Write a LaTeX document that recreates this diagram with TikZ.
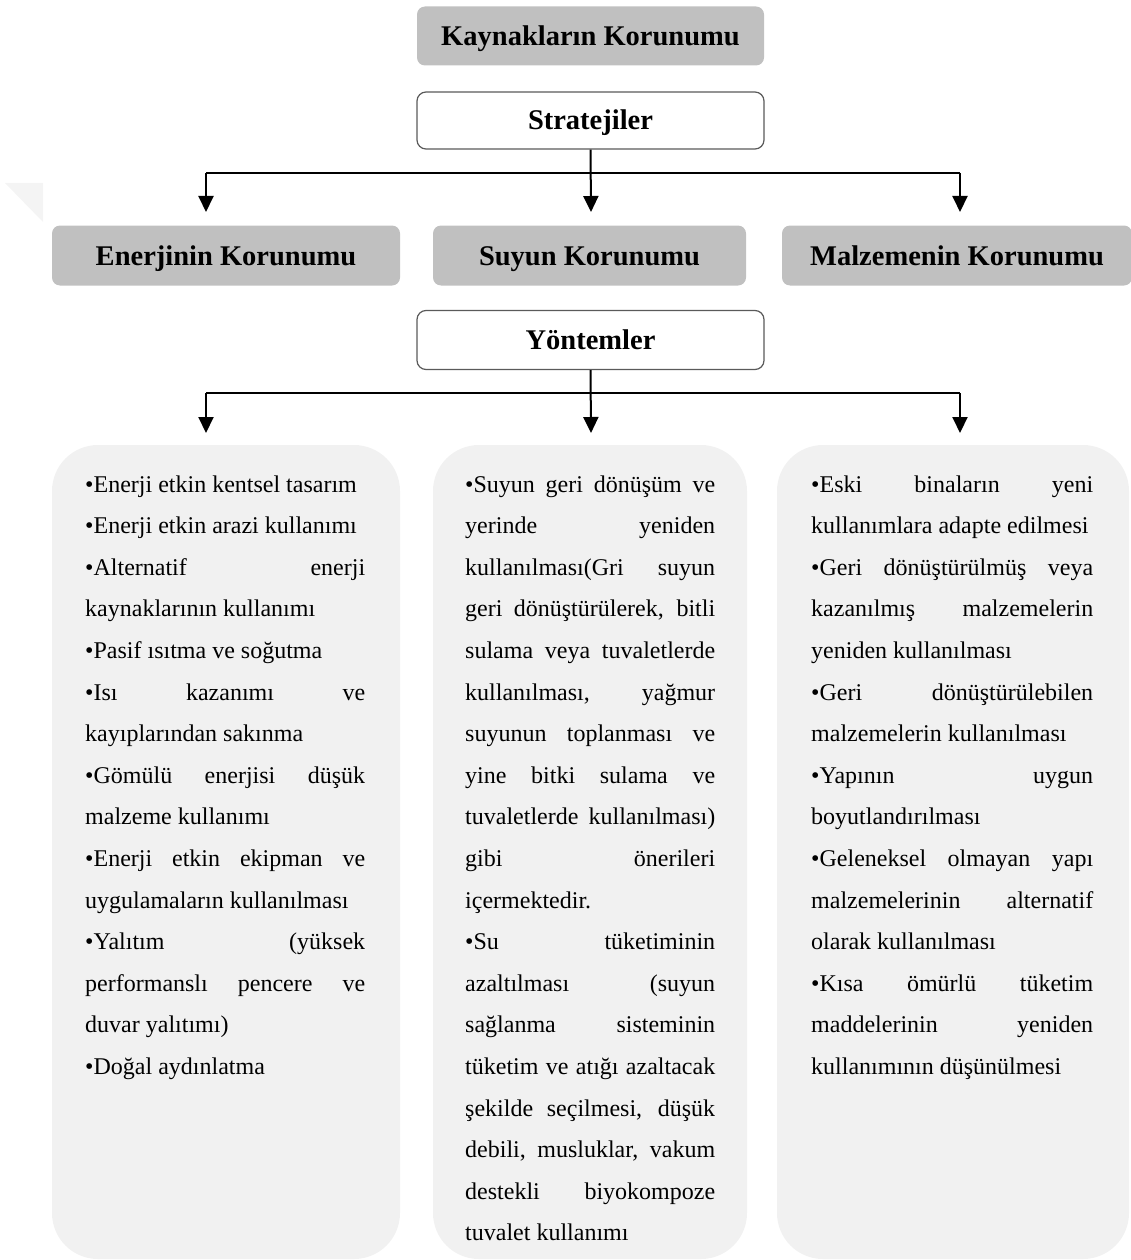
\documentclass[tikz,border=0pt]{standalone}
\usepackage{fontspec}
\setmainfont{Liberation Serif}
\usetikzlibrary{arrows.meta}
\definecolor{hdrgray}{HTML}{C0C0C0}
\definecolor{panelgray}{HTML}{F1F1F1}
\definecolor{edgegray}{HTML}{5A5A5A}
\definecolor{markgray}{HTML}{F4F4F4}
% one text line of a panel: name, x, baseline y, width, text
\newcommand{\Jline}[5]{\node[bodytxt] (#1) at (#2,#3) {\makebox[#4][s]{#5}};}
\newcommand{\Lline}[5]{\node[bodytxt] (#1) at (#2,#3) {\makebox[#4][l]{#5}};}
\begin{document}
\begin{tikzpicture}[x=1pt,y=-1pt,
  hdr/.style={fill=hdrgray, rounded corners=8pt, inner sep=0pt,
    text height=25pt, text depth=6pt,
    font=\fontsize{28.5}{30}\selectfont\bfseries},
  lbl/.style={fill=white, draw=edgegray, line width=1.2pt, rounded corners=9pt, inner sep=0pt,
    text height=25pt, text depth=6pt,
    font=\fontsize{28.5}{30}\selectfont\bfseries},
  panel/.style={fill=panelgray, rounded corners=46pt, inner sep=0pt},
  bodytxt/.style={anchor=base west, inner sep=0pt, font=\fontsize{24}{28}\selectfont},
  conn/.style={line width=2pt, draw=black},
  arr/.style={conn, -{Triangle[width=15pt,length=16pt]}}]
\useasboundingbox (0,0) rectangle (1131,1260);

% faint corner mark
\fill[markgray] (5,183) -- (43,183) -- (43,222) -- cycle;

% top level
\node[hdr, minimum width=347pt, minimum height=59pt] (kaynak) at (590.5,36) {Kaynakların Korunumu};
\node[lbl, minimum width=347pt, minimum height=57pt] (strat) at (590.5,120.5) {Stratejiler};

% strategy headers
\node[hdr, minimum width=348pt, minimum height=60pt] (enerji) at (226,255.5) {Enerjinin Korunumu};
\node[hdr, minimum width=313pt, minimum height=60pt] (su) at (589.5,255.5) {Suyun Korunumu};
\node[hdr, minimum width=350pt, minimum height=60pt] (malz) at (957,255.5) {Malzemenin Korunumu};

\node[lbl, minimum width=347pt, minimum height=59pt] (yont) at (590.5,340) {Yöntemler};

% panels
\node[panel, minimum width=348pt, minimum height=814pt] (penerji) at (226,852) {};
\node[panel, minimum width=314pt, minimum height=814pt] (psu) at (590,852) {};
\node[panel, minimum width=352pt, minimum height=814pt] (pmalz) at (953,852) {};

% connectors from Stratejiler
\coordinate (sl) at (206,173);
\coordinate (sr) at (960,173);
\coordinate (st1) at (206,212);
\coordinate (st2) at (591,212);
\coordinate (st3) at (960,212);
\draw[conn] (sl) -- (sr);
\draw[arr] (sl) -- (st1);
\draw[arr] (strat.south) -- (st2);
\draw[arr] (sr) -- (st3);

% connectors from Yöntemler
\coordinate (yl) at (206,393);
\coordinate (yr) at (960,393);
\coordinate (yt1) at (206,433);
\coordinate (yt2) at (591,433);
\coordinate (yt3) at (960,433);
\draw[conn] (yl) -- (yr);
\draw[arr] (yl) -- (yt1);
\draw[arr] (yont.south) -- (yt2);
\draw[arr] (yr) -- (yt3);

% energy methods
\Lline{e1}{85}{492}{280pt}{•Enerji etkin kentsel tasarım}
\Lline{e2}{85}{533.6}{280pt}{•Enerji etkin arazi kullanımı}
\Jline{e3}{85}{575.2}{280pt}{•Alternatif enerji}
\Lline{e4}{85}{616.8}{280pt}{kaynaklarının kullanımı}
\Lline{e5}{85}{658.4}{280pt}{•Pasif ısıtma ve soğutma}
\Jline{e6}{85}{700}{280pt}{•Isı kazanımı ve}
\Lline{e7}{85}{741.6}{280pt}{kayıplarından sakınma}
\Jline{e8}{85}{783.2}{280pt}{•Gömülü enerjisi düşük}
\Lline{e9}{85}{824.8}{280pt}{malzeme kullanımı}
\Jline{e10}{85}{866.4}{280pt}{•Enerji etkin ekipman ve}
\Lline{e11}{85}{908}{280pt}{uygulamaların kullanılması}
\Jline{e12}{85}{949.6}{280pt}{•Yalıtım (yüksek}
\Jline{e13}{85}{991.2}{280pt}{performanslı pencere ve}
\Lline{e14}{85}{1032.8}{280pt}{duvar yalıtımı)}
\Lline{e15}{85}{1074.4}{280pt}{•Doğal aydınlatma}

% water methods
\Jline{s1}{465}{492}{250pt}{•Suyun geri dönüşüm ve}
\Jline{s2}{465}{533.6}{250pt}{yerinde yeniden}
\Jline{s3}{465}{575.2}{250pt}{kullanılması(Gri suyun}
\Jline{s4}{465}{616.8}{250pt}{geri dönüştürülerek, bitli}
\Jline{s5}{465}{658.4}{250pt}{sulama veya tuvaletlerde}
\Jline{s6}{465}{700}{250pt}{kullanılması, yağmur}
\Jline{s7}{465}{741.6}{250pt}{suyunun toplanması ve}
\Jline{s8}{465}{783.2}{250pt}{yine bitki sulama ve}
\Jline{s9}{465}{824.8}{250pt}{tuvaletlerde kullanılması)}
\Jline{s10}{465}{866.4}{250pt}{gibi önerileri}
\Lline{s11}{465}{908}{250pt}{içermektedir.}
\Jline{s12}{465}{949.6}{250pt}{•Su tüketiminin}
\Jline{s13}{465}{991.2}{250pt}{azaltılması (suyun}
\Jline{s14}{465}{1032.8}{250pt}{sağlanma sisteminin}
\Jline{s15}{465}{1074.4}{250pt}{tüketim ve atığı azaltacak}
\Jline{s16}{465}{1116}{250pt}{şekilde seçilmesi, düşük}
\Jline{s17}{465}{1157.6}{250pt}{debili, musluklar, vakum}
\Jline{s18}{465}{1199.2}{250pt}{destekli biyokompoze}
\Lline{s19}{465}{1240.8}{250pt}{tuvalet kullanımı}

% material methods
\Jline{m1}{811}{492}{282pt}{•Eski binaların yeni}
\Lline{m2}{811}{533.6}{282pt}{kullanımlara adapte edilmesi}
\Jline{m3}{811}{575.2}{282pt}{•Geri dönüştürülmüş veya}
\Jline{m4}{811}{616.8}{282pt}{kazanılmış malzemelerin}
\Lline{m5}{811}{658.4}{282pt}{yeniden kullanılması}
\Jline{m6}{811}{700}{282pt}{•Geri dönüştürülebilen}
\Lline{m7}{811}{741.6}{282pt}{malzemelerin kullanılması}
\Jline{m8}{811}{783.2}{282pt}{•Yapının uygun}
\Lline{m9}{811}{824.8}{282pt}{boyutlandırılması}
\Jline{m10}{811}{866.4}{282pt}{•Geleneksel olmayan yapı}
\Jline{m11}{811}{908}{282pt}{malzemelerinin alternatif}
\Lline{m12}{811}{949.6}{282pt}{olarak kullanılması}
\Jline{m13}{811}{991.2}{282pt}{•Kısa ömürlü tüketim}
\Jline{m14}{811}{1032.8}{282pt}{maddelerinin yeniden}
\Lline{m15}{811}{1074.4}{282pt}{kullanımının düşünülmesi}
\end{tikzpicture}
\end{document}
